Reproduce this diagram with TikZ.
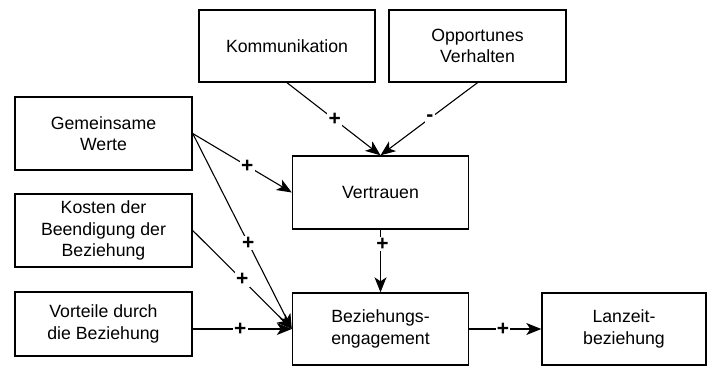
\documentclass[tikz,border=0pt]{standalone}
\usepackage{fontspec}
\setmainfont{Liberation Sans}
\usetikzlibrary{arrows.meta}
\begin{document}
\begin{tikzpicture}[x=1pt,y=1pt,
  box/.style={draw=black, line width=1.4pt, align=center, inner sep=0pt,
    font=\fontsize{17.7}{21.5}\selectfont},
  link/.style={line width=1.1pt, -{Stealth[length=15pt,width=12pt,inset=4pt]}},
  sign/.style={fill=white, inner sep=1.2pt, font=\fontsize{21}{21}\selectfont\bfseries}]
\useasboundingbox (0,0) rectangle (707,367);

% factor boxes
\node[box, minimum width=176pt, minimum height=72pt] (komm) at (287,321) {Kommunikation};
\node[box, minimum width=177pt, minimum height=72pt] (opp) at (477.5,321) {Opportunes\\Verhalten};
\node[box, minimum width=177pt, minimum height=73pt] (gem) at (103.5,233.5) {Gemeinsame\\Werte};
\node[box, minimum width=177pt, minimum height=73pt] (kost) at (103.5,136.5) {Kosten der\\Beendigung der\\Beziehung};
\node[box, minimum width=177pt, minimum height=64pt] (vort) at (103.5,43) {Vorteile durch\\die Beziehung};
\node[box, minimum width=176pt, minimum height=73pt] (vert) at (380.5,174.5) {Vertrauen};
\node[box, minimum width=176pt, minimum height=72pt] (bez) at (380.5,38) {Beziehungs-\\engagement};
\node[box, minimum width=164pt, minimum height=72pt] (lanz) at (624,38) {Lanzeit-\\beziehung};

% influences with their signs
\draw[link] (komm.south) -- node[sign, pos=0.51] {+} (vert.north);
\draw[link] (opp.south) -- node[sign, pos=0.49] {-} (vert.north);
\draw[link] (gem.east) -- node[sign, pos=0.55] {+} (vert.west);
\draw[link] (gem.east) -- node[sign, pos=0.56] {+} (bez.west);
\draw[link] (kost.east) -- node[sign, pos=0.50] {+} (bez.west);
\draw[link] (vort.east |- bez.west) -- node[sign, pos=0.48] {+} (bez.west);
\draw[link] (vert.south) -- node[sign, pos=0.23, xshift=2pt] {+} (bez.north);
\draw[link] (bez.east) -- node[sign, pos=0.47] {+} (lanz.west);
\end{tikzpicture}
\end{document}
